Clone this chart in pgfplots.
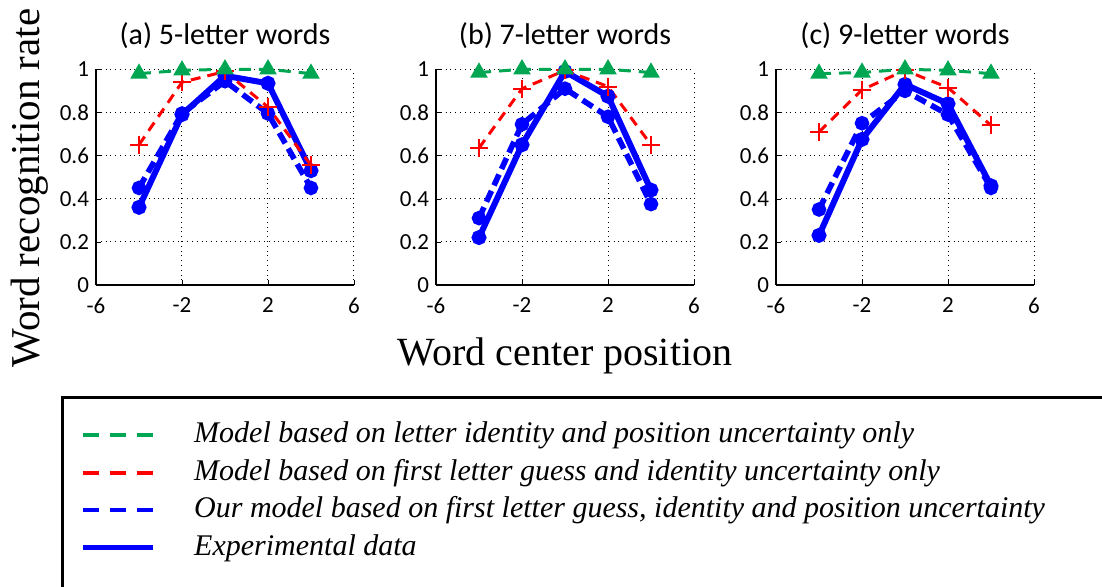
\documentclass[border=0pt]{standalone}
\usepackage{fontspec}
\setmainfont{Carlito}
\newfontfamily\timesfont{Liberation Serif}
\usepackage{pgfplots}
\usepackage{pgfplotstable}
\pgfplotsset{compat=1.18}
\definecolor{mgreen}{RGB}{0,166,81}

\pgfplotstableread{
x green red model exp
-4 0.98 0.65 0.45 0.36
-2 0.995 0.94 0.795 0.79
0 1.0 0.99 0.945 0.97
2 1.0 0.825 0.795 0.935
4 0.98 0.555 0.45 0.53
}\dataA
\pgfplotstableread{
x green red model exp
-4 0.985 0.635 0.31 0.22
-2 1.0 0.91 0.745 0.65
0 1.0 0.995 0.91 0.99
2 1.0 0.92 0.78 0.875
4 0.985 0.65 0.375 0.44
}\dataB
\pgfplotstableread{
x green red model exp
-4 0.98 0.71 0.35 0.23
-2 0.985 0.905 0.75 0.675
0 1.0 0.995 0.90 0.93
2 0.995 0.915 0.79 0.84
4 0.98 0.74 0.45 0.46
}\dataC

\pgfplotsset{
  panel/.style={
    scale only axis, width=129pt, height=107.85pt,
    anchor=south west,
    xmin=-6, xmax=6, ymin=0, ymax=1,
    xtick={-6,-2,2,6}, ytick={0,0.2,0.4,0.6,0.8,1},
    axis lines=left, axis line style={-, black, line width=0.6pt},
    grid=major, grid style={dotted, black, line width=0.5pt},
    tick align=inside, major tick length=2.5pt, tick style={black},
    ticklabel style={font=\fontsize{11.5}{13}\selectfont},
    xticklabel style={yshift=-3pt},
    /pgf/number format/assume math mode=true,
    yticklabel style={/pgf/number format/fixed},
    clip=false,
    title style={at={(axis description cs:0.5,1)}, anchor=center, yshift=11pt,
      font=\fontsize{15}{17}\selectfont},
  },
  greenp/.style={mgreen, line width=1.5pt, dash pattern=on 6pt off 4pt, mark=triangle*, mark size=3.6pt, mark options={solid}},
  redp/.style={red, line width=1.5pt, dash pattern=on 5pt off 3.5pt, mark=+, mark size=4.5pt, mark options={solid, line width=1pt}},
  modelp/.style={blue, line width=2.8pt, dash pattern=on 6pt off 3pt, mark=*, mark size=2.2pt, mark options={solid}},
  expp/.style={blue, line width=3pt, solid, mark=*, mark size=2.2pt},
}

\begin{document}
\begin{tikzpicture}
\useasboundingbox (0,0) rectangle (551pt,293.5pt);
\clip (0,0) rectangle (551pt,293.5pt);
\draw[line width=1.5pt] (31pt,-10pt) -- (31pt,94.5pt) -- (600pt,94.5pt);

\begin{axis}[panel, at={(48pt,151pt)}, title={(a) 5-letter words},
  ylabel={Word recognition rate},
  ylabel style={at={(axis description cs:-0.256,0.45)}, anchor=center,
    font=\timesfont\fontsize{20.5}{24}\selectfont},
  legend style={draw=none, fill=none, at={(axis description cs:-0.062,-0.631)},
    anchor=north west, inner sep=0pt, column sep=19.5pt, row sep=5.3pt,
    font=\timesfont\itshape\fontsize{15}{17}\selectfont,
    nodes={inner sep=0pt, text height=10.5pt, text depth=3pt},
    cells={anchor=west}},
  legend image code/.code={\draw[#1] (0pt,0pt) -- (35pt,0pt);},
  legend entries={Model based on letter identity and position uncertainty only,
    Model based on first letter guess and identity uncertainty only,
    {Our model based on first letter guess, identity and position uncertainty},
    Experimental data},
]
\addlegendimage{mgreen, line width=2pt, dash pattern=on 8pt off 5.5pt}
\addlegendimage{red, line width=2pt, dash pattern=on 8pt off 5.5pt}
\addlegendimage{blue, line width=2.2pt, dash pattern=on 8pt off 5.5pt}
\addlegendimage{blue, line width=2.4pt}
\addplot[expp] table[x=x,y=exp]{\dataA};
\addplot[modelp] table[x=x,y=model]{\dataA};
\addplot[redp] table[x=x,y=red]{\dataA};
\addplot[greenp] table[x=x,y=green]{\dataA};
\end{axis}

\begin{axis}[panel, at={(218pt,151pt)}, title={(b) 7-letter words},
  xlabel={Word center position},
  xlabel style={at={(axis description cs:0.5,-0.33)}, anchor=center,
    font=\timesfont\fontsize{20}{24}\selectfont},
]
\addplot[expp] table[x=x,y=exp]{\dataB};
\addplot[modelp] table[x=x,y=model]{\dataB};
\addplot[redp] table[x=x,y=red]{\dataB};
\addplot[greenp] table[x=x,y=green]{\dataB};
\end{axis}

\begin{axis}[panel, at={(388pt,151pt)}, title={(c) 9-letter words}]
\addplot[expp] table[x=x,y=exp]{\dataC};
\addplot[modelp] table[x=x,y=model]{\dataC};
\addplot[redp] table[x=x,y=red]{\dataC};
\addplot[greenp] table[x=x,y=green]{\dataC};
\end{axis}
\end{tikzpicture}
\end{document}
